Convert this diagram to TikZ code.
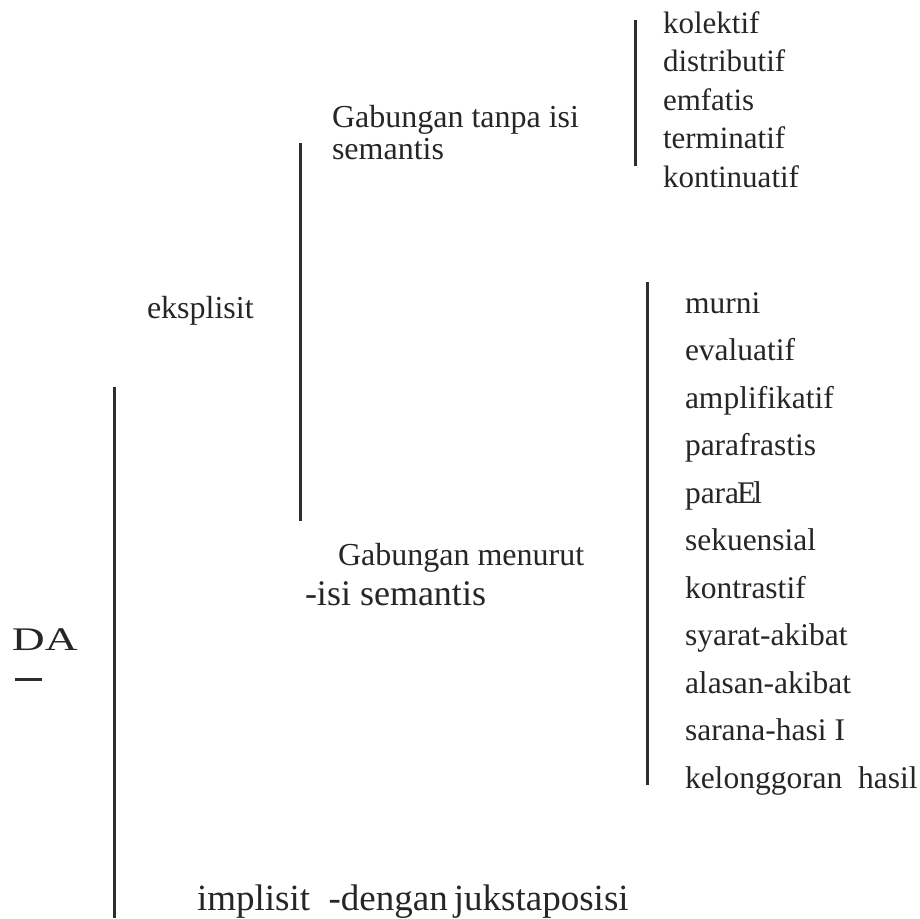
\documentclass[tikz,border=0pt]{standalone}
\usepackage{fontspec}
\setmainfont{Liberation Serif}
\newcommand{\cond}[2]{\scalebox{#1}[1]{#2}}
\begin{document}
\begin{tikzpicture}[x=1pt,y=-1pt,
  lbl/.style={anchor=base west,inner sep=0pt,outer sep=0pt,text=black!85,font=\fontsize{31}{33}\selectfont},
  big/.style={lbl,font=\fontsize{36}{38}\selectfont},
  tall/.style={lbl,font=\fontsize{31.5}{34}\selectfont},
  bar/.style={draw=black!82,line width=3pt}]
\useasboundingbox[fill=white] (0,0) rectangle (920,918);
% main labels
\node[lbl,font=\fontsize{33}{35}\selectfont] (da) at (12,650) {\cond{1.38}{DA}};
\coordinate (u1) at (15,679); \coordinate (u2) at (42,679);
\draw[bar] (u1) -- (u2);
\coordinate (l1a) at (114,387); \coordinate (l1b) at (114,918);
\draw[bar] (l1a) -- (l1b);
\node[lbl,font=\fontsize{32}{34}\selectfont] (eks) at (147,318) {eksplisit};
\node[lbl,font=\fontsize{37}{39}\selectfont] (imp) at (197,910) {implisit \ -dengan\,jukstaposisi};
\coordinate (l2a) at (300,143); \coordinate (l2b) at (300,521);
\draw[bar] (l2a) -- (l2b);
\node[lbl,font=\fontsize{32}{34}\selectfont] (g1a) at (332,127) {Gabungan tanpa isi};
\node[lbl,font=\fontsize{32}{34}\selectfont] (g1b) at (332,159) {semantis};
\node[lbl,font=\fontsize{32}{34}\selectfont] (g2a) at (338,565) {Gabungan menurut};
\node[big] (g2b) at (305,605) {-isi semantis};
% list 1
\coordinate (l3a) at (635,20); \coordinate (l3b) at (635,166);
\draw[bar] (l3a) -- (l3b);
\foreach \t [count=\i from 0] in {kolektif,distributif,emfatis,terminatif,kontinuatif}
  \node[lbl] (a\i) at (663,33+38.5*\i) {\t};
% list 2
\coordinate (l4a) at (647,282); \coordinate (l4b) at (647,785);
\draw[bar] (l4a) -- (l4b);
\foreach \t [count=\i from 0] in {murni,evaluatif,amplifikatif,parafrastis,{para\kern-2pt E\kern-3pt l},sekuensial,kontrastif,syarat-akibat,alasan-akibat,sarana-hasi I,kelonggoran \ hasil}
  \node[tall] (b\i) at (685,313+47.5*\i) {\t};
\end{tikzpicture}
\end{document}
